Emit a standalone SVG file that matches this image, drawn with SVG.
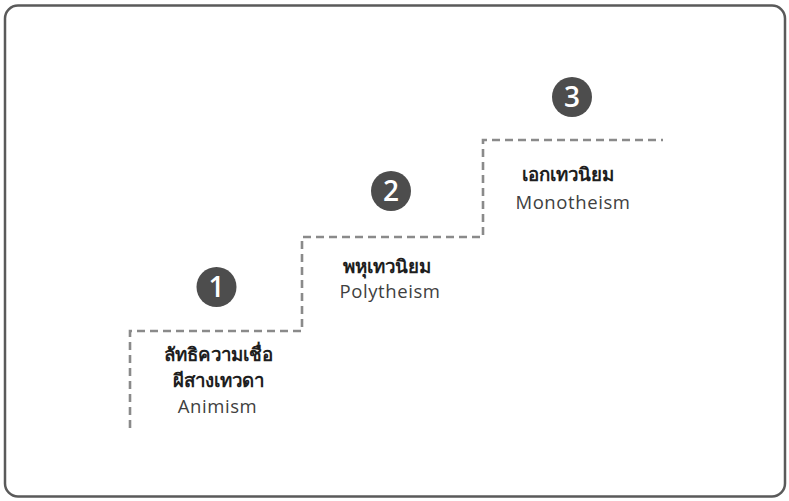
<svg xmlns="http://www.w3.org/2000/svg" width="789" height="501" viewBox="0 0 789 501">
<style>
.frame{fill:none;stroke:#5a5a5a;stroke-width:2.5}
.frame2{fill:none;stroke:#9a9a9a;stroke-width:1}
.step{fill:none;stroke:#8a8a8a;stroke-width:2.6;stroke-dasharray:8 5}
.badge{fill:#4d4d4d}
.num{fill:#ffffff;font-family:"Open Sans","Liberation Sans",sans-serif;font-size:28px;font-weight:600;text-anchor:middle}
.th{fill:#1e1e1e;font-family:"Noto Sans","Liberation Sans",sans-serif;font-size:18.7px;font-weight:700;text-anchor:middle}
.en{fill:#404040;font-family:"Open Sans","Liberation Sans",sans-serif;font-size:18.5px;letter-spacing:0.6px;text-anchor:middle}
</style>
<rect class="frame" x="5" y="5.5" width="780" height="491" rx="13"/>
<g id="connectors">
<path class="step" d="M130 428 V331 H302 V237 H483 V140 H663"/>
</g>
<g id="step1">
<circle class="badge" cx="216.5" cy="287" r="20"/>
<text class="num" x="216.5" y="297">1</text>
<text class="th" x="218" y="361">ลัทธิความเชื่อ</text>
<text class="th" x="218" y="387">ผีสางเทวดา</text>
<text class="en" x="217.5" y="413">Animism</text>
</g>
<g id="step2">
<circle class="badge" cx="391" cy="191" r="20"/>
<text class="num" x="391" y="201">2</text>
<text class="th" x="387" y="273">พหุเทวนิยม</text>
<text class="en" x="390" y="298">Polytheism</text>
</g>
<g id="step3">
<circle class="badge" cx="572" cy="97" r="20"/>
<text class="num" x="572" y="107">3</text>
<text class="th" x="568" y="181">เอกเทวนิยม</text>
<text class="en" x="573" y="209">Monotheism</text>
</g>
</svg>
